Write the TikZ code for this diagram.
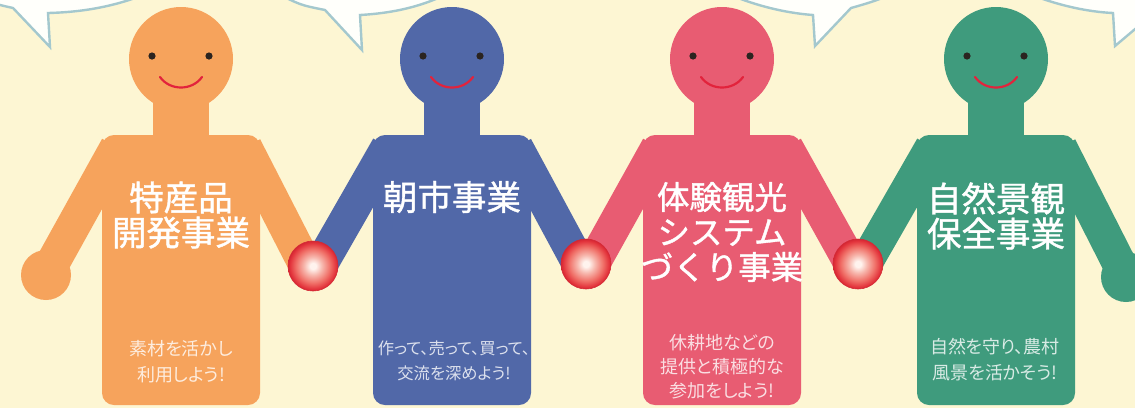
\documentclass[tikz,border=0pt]{standalone}
\usepackage{fontspec}
\setmainfont{Noto Sans CJK JP}
\newfontfamily\jptitle[FakeBold=1.2]{Noto Sans CJK JP}
\newfontfamily\jpnote[RawFeature=+palt]{Noto Sans CJK JP}
\usepackage{tikz}

\definecolor{paper}{HTML}{FDF6D3}
\definecolor{bubblefill}{HTML}{FFFFFB}
\definecolor{bubbleline}{HTML}{A4C8CE}
\definecolor{persorange}{HTML}{F6A35C}
\definecolor{persblue}{HTML}{5168A8}
\definecolor{perspink}{HTML}{E85C72}
\definecolor{persgreen}{HTML}{3F9B7D}
\definecolor{smilered}{HTML}{E2233C}
\definecolor{eyedark}{HTML}{2B2420}
\definecolor{ballcore}{HTML}{FFF3EE}
\definecolor{balllight}{HTML}{F7B8AE}
\definecolor{ballmid}{HTML}{F07068}
\definecolor{ballred}{HTML}{E3343C}
\definecolor{ballrim}{HTML}{D42834}
\pgfdeclareradialshading{handball}{\pgfpoint{0bp}{0bp}}{%
  color(0bp)=(ballcore); color(3bp)=(ballcore); color(9bp)=(balllight);
  color(17bp)=(ballmid); color(23bp)=(ballred); color(25bp)=(ballrim);
  color(50bp)=(ballrim)}

\begin{document}
\begin{tikzpicture}[x=1pt, y=-1pt,
  bubble/.style={fill=bubblefill, draw=bubbleline, line width=2.4pt, line join=miter},
  limb/.style={line width=34pt},
  body/.style={rounded corners=12pt},
  eye/.style={fill=eyedark},
  smile/.style={draw=smilered, line width=2.2pt, line cap=round},
  title/.style={text=white, align=center, inner sep=0pt,
                font=\jptitle\fontsize{34.5}{35}\selectfont},
  note/.style={text=white, text opacity=0.8, align=center, inner sep=0pt,
               font=\jpnote\fontsize{18}{26}\selectfont},
  joint/.style={shading=handball, draw=ballrim, line width=0.6pt}]

\useasboundingbox (0,0) rectangle (1135,408);
\clip (0,0) rectangle (1135,408);
\fill[paper] (0,0) rectangle (1135,408);

% ---- speech bubbles along the top edge -----------------------------------
\draw[bubble] (-30,-6) .. controls (-5,4) .. (13,8) -- (50,47) -- (48,13)
  .. controls (90,12) and (125,4) .. (160,-12) -- (160,-30) -- (-30,-30) -- cycle;
\draw[bubble] (275,-8) .. controls (300,5) .. (325,10) -- (362,50) -- (360,15)
  .. controls (395,13) and (425,6) .. (455,-10) -- (455,-30) -- (275,-30) -- cycle;
\draw[bubble] (715,-12) .. controls (750,5) and (785,13) .. (813,15) -- (815,46) -- (851,8)
  .. controls (865,4) and (880,0) .. (895,-8) -- (895,-30) -- (715,-30) -- cycle;
\draw[bubble] (1015,-12) .. controls (1055,6) and (1090,12) .. (1113,13) -- (1115,46)
  -- (1160,8) -- (1160,-30) -- (1015,-30) -- cycle;

% ---- orange ---------------------------------------------------------------
\draw[limb, persorange] (117,147) -- (46,275);
\draw[limb, persorange] (245,147) -- (305,264);
\fill[persorange] (46,275) circle (25pt);
\fill[persorange, body] (102,135) rectangle (260,405);
\fill[persorange] (153,95) rectangle (209,140);
\fill[persorange] (181,59) circle (52pt);
\fill[eye] (152,56) circle (3.6pt) (209,56) circle (3.6pt);
\draw[smile] (160,77) .. controls (170,91) and (192,91) .. (202,77);
\node[title] (orangeT) at (181,215) {特産品\\開発事業};
\node[note] (orangeN) at (181,362) {素材を活かし\\利用しよう!};

% ---- blue -----------------------------------------------------------------
\draw[limb, persblue] (388,147) -- (321,264);
\draw[limb, persblue] (516,147) -- (578,262);
\fill[persblue, body] (373,135) rectangle (531,405);
\fill[persblue] (424,95) rectangle (480,140);
\fill[persblue] (452,59) circle (52pt);
\fill[eye] (423,56) circle (3.6pt) (480,56) circle (3.6pt);
\draw[smile] (431,77) .. controls (441,91) and (463,91) .. (473,77);
\node[title] (blueT) at (452,197) {朝市事業};
\node[note, font=\jpnote\fontsize{16.3}{25}\selectfont] (blueN) at (454,361)
  {作って、売って、買って、\\交流を深めよう!};

% ---- pink -----------------------------------------------------------------
\draw[limb, perspink] (658,147) -- (594,262);
\draw[limb, perspink] (786,147) -- (850,262);
\fill[perspink, body] (643,135) rectangle (801,405);
\fill[perspink] (694,95) rectangle (750,140);
\fill[perspink] (722,59) circle (52pt);
\fill[eye] (693,56) circle (3.6pt) (750,56) circle (3.6pt);
\draw[smile] (701,77) .. controls (711,91) and (733,91) .. (743,77);
\node[title, font=\jptitle\fontsize{32.5}{35}\selectfont] (pinkT) at (722,232)
  {体験観光\\システム\\づくり事業};
\node[note, font=\jpnote\fontsize{18}{24}\selectfont] (pinkN) at (722,367)
  {休耕地などの\\提供と積極的な\\参加をしよう!};

% ---- green ----------------------------------------------------------------
\draw[limb, persgreen] (932,147) -- (866,262);
\draw[limb, persgreen] (1060,147) -- (1126,277);
\fill[persgreen] (1126,277) circle (25pt);
\fill[persgreen, body] (917,135) rectangle (1075,405);
\fill[persgreen] (968,95) rectangle (1024,140);
\fill[persgreen] (996,59) circle (52pt);
\fill[eye] (967,56) circle (3.6pt) (1024,56) circle (3.6pt);
\draw[smile] (975,77) .. controls (985,91) and (1007,91) .. (1017,77);
\node[title] (greenT) at (996,216) {自然景観\\保全事業};
\node[note] (greenN) at (995,360) {自然を守り、農村\\風景を活かそう!};

% ---- joined hands ---------------------------------------------------------
\path[joint] (313,266) circle (25pt);
\path[joint] (586,264) circle (25pt);
\path[joint] (858,264) circle (25pt);

\end{tikzpicture}
\end{document}
